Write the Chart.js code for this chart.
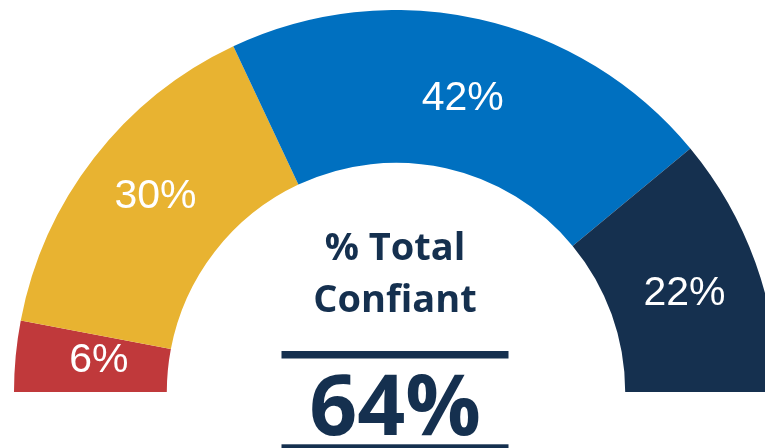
<!DOCTYPE html>
<html>
<head>
<meta charset="utf-8">
<script src="https://cdn.jsdelivr.net/npm/chart.js@4/dist/chart.umd.min.js"></script>
<style>
  html, body { margin:0; padding:0; width:765px; height:448px; overflow:hidden; background:#fff; }
  #wrap { position:absolute; left:14px; top:10px; width:764px; height:438px; }
</style>
</head>
<body>
<div id="wrap"><canvas id="gauge"></canvas></div>
<script>
// categories and values
const categories = ["Pas du tout confiant", "Peu confiant", "Assez confiant", "Très confiant"];
const values = [6, 30, 42, 22];
const colors = ["#C0393B", "#E8B331", "#0070C0", "#15304F"];
const centerTitle = ["% Total", "Confiant"];
const centerValue = "64%";

const NAVY = "#15304F";
// small hand nudges so labels sit where the original put them
const labelNudge = [[7, -6], [1, -12], [0, 1], [1, 2]];

// white % labels in the middle of each slice
const sliceLabels = {
  id: "sliceLabels",
  afterDatasetsDraw(chart){
    const ctx = chart.ctx;
    const meta = chart.getDatasetMeta(0);
    ctx.save();
    ctx.fillStyle = "#fff";
    ctx.font = "41px 'Liberation Sans', Arial, sans-serif";
    ctx.textAlign = "center";
    ctx.textBaseline = "alphabetic";
    meta.data.forEach((arc, i)=>{
      const p = arc.tooltipPosition();
      const n = labelNudge[i];
      ctx.fillText(values[i] + "%", p.x + n[0], p.y + 15 + n[1]);
    });
    ctx.restore();
  }
};

// title, rules and total in the hole
const centerText = {
  id: "centerText",
  afterDraw(chart){
    const ctx = chart.ctx;
    const arc = chart.getDatasetMeta(0).data[0];
    const cx = arc.x - 1, cy = arc.y;
    ctx.save();
    ctx.fillStyle = NAVY;
    ctx.textAlign = "center";
    ctx.textBaseline = "alphabetic";
    ctx.font = "bold 38px 'Open Sans', sans-serif";
    ctx.fillText(centerTitle[0], cx, cy - 132);
    ctx.fillText(centerTitle[1], cx, cy - 80);
    ctx.fillRect(cx - 113.5, cy - 41, 227, 7.5);
    ctx.font = "bold 84px 'Open Sans', sans-serif";
    ctx.fillText(centerValue, cx, cy + 43);
    ctx.fillRect(cx - 113.5, cy + 52.3, 227, 7.5);
    ctx.restore();
  }
};

new Chart(document.getElementById("gauge"), {
  type: "doughnut",
  data: {
    labels: categories,
    datasets: [{ data: values, backgroundColor: colors, borderWidth: 0 }]
  },
  options: {
    responsive: true,
    maintainAspectRatio: false,
    animation: false,
    rotation: -90,
    circumference: 180,
    cutout: "60%",
    layout: { padding: { bottom: 56 } },
    plugins: { legend: { display: false }, tooltip: { enabled: false } }
  },
  plugins: [sliceLabels, centerText]
});
</script>
</body>
</html>
